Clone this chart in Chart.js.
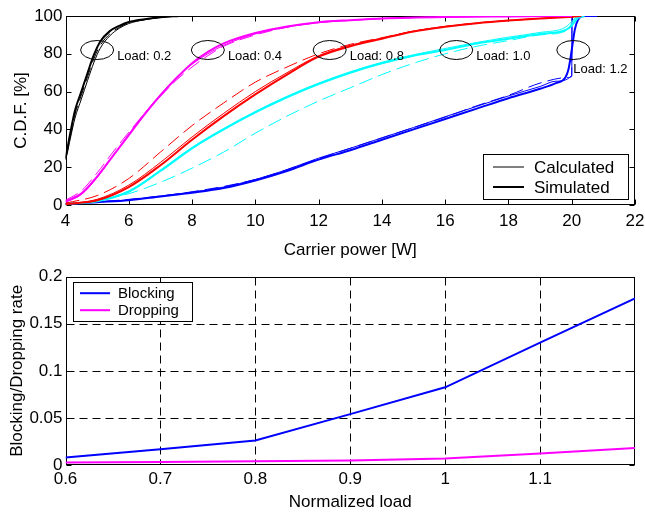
<!DOCTYPE html>
<html>
<head>
<meta charset="utf-8">
<script src="https://cdn.jsdelivr.net/npm/chart.js@4.4.1/dist/chart.umd.min.js"></script>
<style>
  body { margin: 0; background: #fff; width: 645px; height: 512px; overflow: hidden; position: relative; }
  #cdf { position: absolute; left: 0; top: 0; }
  #rate { position: absolute; left: 0; top: 262px; }
</style>
</head>
<body>
<canvas id="cdf" width="645" height="262"></canvas>
<canvas id="rate" width="645" height="250"></canvas>
<script>
// ---- top plot: C.D.F. of carrier power, per load ----
// load 0.2 (black)
const p02 = [4, 4.05, 4.15, 4.3, 4.5, 4.7, 4.9, 5.1, 5.4, 5.7, 6.0, 6.5, 7.0, 7.6];
const sim02 = [25, 29, 38, 50, 60, 70, 79.5, 86.5, 92, 94.8, 96.8, 98.3, 99.4, 100];
const calc02 = [24, 27, 35, 46, 56, 66, 75.5, 83, 89.5, 93.5, 96, 98, 99.2, 100];
const dash02 = [24.5, 28, 36, 48, 58, 68, 77.5, 84.5, 90.5, 94, 96.4, 98.1, 99.3, 100];

// load 0.4 (magenta)
const p04 = [4, 4.5, 5, 5.5, 6, 6.5, 7, 7.5, 8, 8.5, 9, 10, 11, 12, 13, 14, 16, 18, 20];
const sim04 = [1.8, 6, 15, 26, 37, 48, 58, 67, 75, 81, 85.5, 91, 94.5, 96.7, 97.8, 98.7, 99.5, 99.8, 100];
const calc04 = [1.5, 5.5, 14.5, 26, 37.5, 48.5, 58.5, 67.5, 74.5, 80, 84.5, 90.5, 94.2, 96.5, 97.7, 98.6, 99.5, 99.8, 100];
const dash04 = [2.5, 7.5, 17, 28, 38.5, 48.5, 57.5, 66, 73, 79, 84, 90, 94, 96.5, 97.7, 98.6, 99.5, 99.8, 100];

// load 0.8 (red)
const p08 = [4, 5, 6, 7, 8, 9, 10, 11, 12, 13, 14, 15, 16, 17, 18, 19, 20, 20.3];
const sim08 = [0.5, 2.5, 9.5, 21, 34.5, 47, 58.5, 69, 78.5, 84, 88, 91.8, 94.3, 96.2, 97.6, 98.7, 99.6, 100];
const calc08 = [0.5, 3, 10.5, 22.5, 36, 48.5, 60, 70, 79, 84.5, 88.3, 92, 94.4, 96.3, 97.6, 98.7, 99.6, 100];
const dash08 = [1, 5, 14, 28, 42, 54, 65, 73, 80, 85, 88.5, 92, 94.5, 96.3, 97.6, 98.7, 99.6, 100];

// load 1.0 (cyan)
const p10 = [4, 5, 6, 7, 8, 9, 10, 11, 12, 13, 14, 15, 16, 17, 18, 19, 19.8, 20, 20.2, 20.4];
const sim10 = [0.5, 2, 7, 18, 30, 40, 49, 57, 64, 70, 75, 79, 82, 85.5, 88, 90.5, 92.5, 95, 99, 100];
const calc10 = [0.5, 2.2, 7.5, 18.5, 30.5, 40.5, 49.5, 57.5, 64.5, 70.5, 75.5, 79.5, 82.8, 86, 88.8, 91.3, 94, 97, 100, 100];
const dash10 = [0.5, 2.5, 6, 12, 19.5, 28, 38, 47, 55, 62, 69, 75, 80, 84, 87, 90, 92, 96, 100, 100];

// load 1.2 (blue)
const p12 = [4, 5, 6, 7, 8, 9, 10, 11, 12, 13, 14, 15, 16, 17, 18, 19, 19.5, 19.8, 19.9, 20, 20.1, 20.2, 20.4, 20.8];
const sim12 = [0.5, 1.5, 2.5, 4.5, 6.5, 9, 13, 18, 24, 29, 34.5, 40, 45.5, 51, 56.5, 61.5, 64.5, 67.5, 72, 82, 93, 98, 100, 100];
const pc12 = [4, 5, 6, 7, 8, 9, 10, 11, 12, 13, 14, 15, 16, 17, 18, 19, 19.5, 20, 20.01, 20.5];
const calc12 = [0.5, 1.5, 2.7, 4.7, 6.8, 9.5, 13.5, 18.7, 24.8, 30, 35.5, 41, 46.7, 52.2, 57.7, 62.7, 65.5, 68.5, 100, 100];
const pd12 = [4, 6, 8, 10, 12, 14, 16, 17, 18, 19, 19.9, 20, 20.01, 20.3];
const dash12 = [0.5, 3, 7, 13.5, 24.5, 35.5, 46.5, 52.5, 58, 64.5, 67.5, 68, 100, 100];

const loadLabels = ['Load: 0.2', 'Load: 0.4', 'Load: 0.8', 'Load: 1.0', 'Load: 1.2'];
const loadMarkX = [5.0, 8.5, 12.35, 16.35, 20.05];
const loadMarkY = [82, 82, 82, 82, 82];

const powerTicks = [4, 6, 8, 10, 12, 14, 16, 18, 20, 22];
const cdfTicks = [0, 20, 40, 60, 80, 100];

// ---- bottom plot: blocking / dropping ----
const loads = [0.6, 0.7, 0.8, 0.9, 1.0, 1.1, 1.2];
const blocking = [0.008, 0.0167, 0.026, 0.054, 0.0825, 0.13, 0.177];
const dropping = [0.0026, 0.0032, 0.0039, 0.0048, 0.0068, 0.0121, 0.018];
const loadTicks = [0.6, 0.7, 0.8, 0.9, 1, 1.1];
const rateTicks = [0, 0.05, 0.1, 0.15, 0.2];

Chart.defaults.font.family = '"Liberation Sans", Arial, Helvetica, sans-serif';
Chart.defaults.font.size = 17;
Chart.defaults.color = '#000';

function pts(xs, ys) {
  return xs.map((v, i) => ({ x: v, y: ys[i] }));
}

function curve(xs, ys, color, kind) {
  return {
    data: pts(xs, ys),
    borderColor: color,
    borderWidth: kind === 'sim' ? 2 : 1,
    borderDash: kind === 'dash' ? [14, 6] : [],
    pointRadius: 0,
    cubicInterpolationMode: 'monotone',
    fill: false
  };
}

function fixTicks(values) {
  return function (scale) {
    scale.ticks = values.map(v => ({ value: v }));
  };
}

// fixed axis sizes so both plots line up
function fitX(h) {
  return function (s) { s.height = h; s.paddingLeft = 0; s.paddingRight = 0; };
}
function fitY(w) {
  return function (s) { s.width = w; s.paddingTop = 0; s.paddingBottom = 0; };
}

// matlab-like box, inward ticks, optional dashed grid
const axesBox = {
  id: 'axesBox',
  beforeDatasetsDraw(chart, args, opts) {
    const { ctx, chartArea: a, scales: { x, y } } = chart;
    const L = Math.round(a.left) + 0.5, R = Math.round(a.right) - 0.5;
    const T = Math.round(a.top) + 0.5, B = Math.round(a.bottom) - 0.5;
    const xs = x.ticks.map(t => Math.round(x.getPixelForValue(t.value)) + 0.5);
    const ys = y.ticks.map(t => Math.round(y.getPixelForValue(t.value)) + 0.5);
    ctx.save();
    ctx.lineWidth = 1;
    ctx.strokeStyle = '#000';
    if (opts.grid) {
      ctx.setLineDash([8, 5]);
      ctx.beginPath();
      xs.forEach(px => { if (px > L + 1 && px < R - 1) { ctx.moveTo(px, T); ctx.lineTo(px, B); } });
      ys.forEach(py => { if (py > T + 1 && py < B - 1) { ctx.moveTo(L, py); ctx.lineTo(R, py); } });
      ctx.stroke();
      ctx.setLineDash([]);
    }
    const tl = 5;
    ctx.beginPath();
    xs.forEach(px => { ctx.moveTo(px, B); ctx.lineTo(px, B - tl); ctx.moveTo(px, T); ctx.lineTo(px, T + tl); });
    ys.forEach(py => { ctx.moveTo(L, py); ctx.lineTo(L + tl, py); ctx.moveTo(R, py); ctx.lineTo(R - tl, py); });
    ctx.stroke();
    ctx.strokeRect(L, T, R - L, B - T);
    ctx.restore();
  }
};

// legend box drawn inside the axes
const boxLegend = {
  id: 'boxLegend',
  afterDraw(chart, args, o) {
    if (!o.items) return;
    const { ctx, chartArea: a } = chart;
    const left = o.anchor === 'br' ? a.right - o.dx - o.w : a.left + o.dx;
    const top = o.anchor === 'br' ? a.bottom - o.dy - o.h : a.top + o.dy;
    ctx.save();
    ctx.fillStyle = '#fff';
    ctx.fillRect(left, top, o.w, o.h);
    ctx.strokeStyle = '#000';
    ctx.lineWidth = 1;
    ctx.strokeRect(Math.round(left) + 0.5, Math.round(top) + 0.5, o.w, o.h);
    ctx.font = o.fontSize + 'px "Liberation Sans", Arial, sans-serif';
    ctx.textBaseline = 'middle';
    ctx.textAlign = 'left';
    o.items.forEach((it, i) => {
      const yy = top + o.row0 + i * o.rowGap;
      ctx.strokeStyle = it.color;
      ctx.lineWidth = it.width;
      ctx.beginPath();
      ctx.moveTo(left + o.line0, yy);
      ctx.lineTo(left + o.line1, yy);
      ctx.stroke();
      ctx.fillStyle = '#000';
      ctx.fillText(it.text, left + o.text0, yy + 1);
    });
    ctx.restore();
  }
};

// ellipses with "Load" labels
const loadMarks = {
  id: 'loadMarks',
  afterDatasetsDraw(chart, args, o) {
    if (!o.show) return;
    const { ctx, scales: { x, y } } = chart;
    ctx.save();
    ctx.strokeStyle = '#000';
    ctx.lineWidth = 1;
    ctx.fillStyle = '#000';
    ctx.font = '13px "Liberation Sans", Arial, sans-serif';
    ctx.textBaseline = 'middle';
    loadLabels.forEach((txt, i) => {
      const cx = x.getPixelForValue(loadMarkX[i]);
      const cy = y.getPixelForValue(loadMarkY[i]);
      ctx.beginPath();
      ctx.ellipse(cx, cy, 16.5, 9.5, 0, 0, Math.PI * 2);
      ctx.stroke();
      if (i < loadLabels.length - 1) ctx.fillText(txt, cx + 20, cy + 6);
      else ctx.fillText(txt, cx, cy + 19);
    });
    ctx.restore();
  }
};

const black = '#000000', magenta = '#ff00ff', red = '#ff0000', cyan = '#00ffff', blue = '#0000ff';

const cdfSets = [
  curve(p02, dash02, black, 'dash'), curve(p02, calc02, black, 'calc'), curve(p02, sim02, black, 'sim'),
  curve(p04, dash04, magenta, 'dash'), curve(p04, calc04, magenta, 'calc'), curve(p04, sim04, magenta, 'sim'),
  curve(p08, dash08, red, 'dash'), curve(p08, calc08, red, 'calc'), curve(p08, sim08, red, 'sim'),
  curve(p10, dash10, cyan, 'dash'), curve(p10, calc10, cyan, 'calc'), curve(p10, sim10, cyan, 'sim'),
  curve(pd12, dash12, blue, 'dash'), curve(pc12, calc12, blue, 'calc'), curve(p12, sim12, blue, 'sim')
];

new Chart(document.getElementById('cdf'), {
  type: 'line',
  data: { datasets: cdfSets },
  plugins: [axesBox, boxLegend, loadMarks],
  options: {
    responsive: false,
    animation: false,
    devicePixelRatio: 1,
    layout: { padding: { left: 0, right: 10, top: 16, bottom: 0 } },
    plugins: {
      legend: { display: false },
      tooltip: { enabled: false },
      axesBox: { grid: false },
      loadMarks: { show: true },
      boxLegend: {
        anchor: 'br', dx: 7, dy: 6, w: 145, h: 45, fontSize: 17,
        row0: 13, rowGap: 20, line0: 10, line1: 41, text0: 51,
        items: [
          { text: 'Calculated', color: '#000', width: 1 },
          { text: 'Simulated', color: '#000', width: 2 }
        ]
      }
    },
    scales: {
      x: {
        type: 'linear', min: 4, max: 22,
        afterBuildTicks: fixTicks(powerTicks),
        ticks: { padding: 6, maxRotation: 0 },
        grid: { display: false, drawTicks: false },
        border: { display: false },
        title: { display: true, text: 'Carrier power [W]', font: { size: 17, lineHeight: 1 }, padding: { top: 0, bottom: 3.5 } },
        afterFit: fitX(57)
      },
      y: {
        type: 'linear', min: 0, max: 100,
        afterBuildTicks: fixTicks(cdfTicks),
        ticks: { padding: 3 },
        grid: { display: false, drawTicks: false },
        border: { display: false },
        title: { display: true, text: 'C.D.F. [%]', font: { size: 17, lineHeight: 1 }, padding: { top: 12.5, bottom: 0 } },
        afterFit: fitY(65.5)
      }
    }
  }
});

new Chart(document.getElementById('rate'), {
  type: 'line',
  data: {
    datasets: [
      { label: 'Blocking', data: pts(loads, blocking), borderColor: blue, borderWidth: 2, pointRadius: 0, fill: false },
      { label: 'Dropping', data: pts(loads, dropping), borderColor: magenta, borderWidth: 2, pointRadius: 0, fill: false }
    ]
  },
  plugins: [axesBox, boxLegend],
  options: {
    responsive: false,
    animation: false,
    devicePixelRatio: 1,
    layout: { padding: { left: 0, right: 10, top: 14.7, bottom: 0 } },
    plugins: {
      legend: { display: false },
      tooltip: { enabled: false },
      axesBox: { grid: true },
      boxLegend: {
        anchor: 'tl', dx: 7.5, dy: 5.5, w: 119, h: 39, fontSize: 15,
        row0: 11, rowGap: 17, line0: 7, line1: 37, text0: 45,
        items: [
          { text: 'Blocking', color: blue, width: 2 },
          { text: 'Dropping', color: magenta, width: 2 }
        ]
      }
    },
    scales: {
      x: {
        type: 'linear', min: 0.6, max: 1.2,
        afterBuildTicks: fixTicks(loadTicks),
        ticks: { padding: 4, maxRotation: 0, callback: v => String(Math.round(v * 10) / 10) },
        grid: { display: false, drawTicks: false },
        border: { display: false },
        title: { display: true, text: 'Normalized load', font: { size: 17, lineHeight: 1 }, padding: { top: 0, bottom: 0.8 } },
        afterFit: fitX(47)
      },
      y: {
        type: 'linear', min: 0, max: 0.2,
        afterBuildTicks: fixTicks(rateTicks),
        ticks: { padding: 3, callback: v => String(Math.round(v * 100) / 100) },
        grid: { display: false, drawTicks: false },
        border: { display: false },
        title: { display: true, text: 'Blocking/Dropping rate', font: { size: 17, lineHeight: 1 }, padding: { top: 9.2, bottom: 0 } },
        afterFit: fitY(65.5)
      }
    }
  }
});
</script>
</body>
</html>
